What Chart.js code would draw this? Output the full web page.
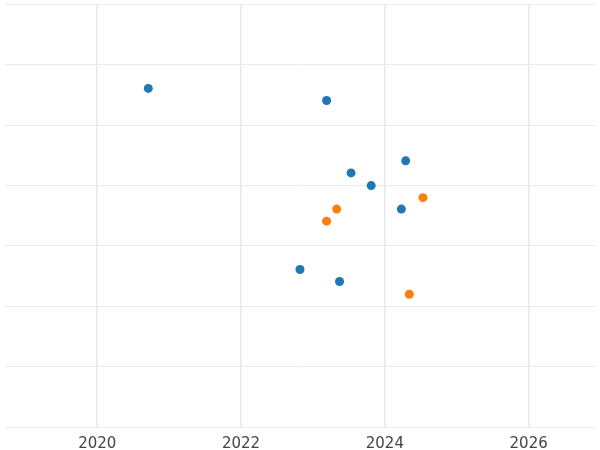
<!DOCTYPE html>
<html>
<head>
<meta charset="utf-8">
<script src="https://cdn.jsdelivr.net/npm/chart.js@4"></script>
<style>
  html, body { margin: 0; padding: 0; background: #fff; }
  #wrap { width: 600px; height: 450px; }
</style>
</head>
<body>
<div id="wrap"><canvas id="chart"></canvas></div>
<script>
// серия 1 (синяя)
const blueX = [2020.71, 2023.19, 2024.29, 2023.53, 2023.81, 2024.23, 2022.82, 2023.37];
const blueY = [5.61, 5.41, 4.41, 4.21, 4.0, 3.61, 2.61, 2.41];
// серия 2 (оранжевая)
const orangeX = [2024.53, 2023.33, 2023.19, 2024.34];
const orangeY = [3.80, 3.61, 3.41, 2.20];
const xTicks = [2020, 2022, 2024, 2026];

function toPoints(xs, ys) {
    return xs.map((x, i) => ({ x: x, y: ys[i] }));
}

new Chart(document.getElementById('chart'), {
    type: 'scatter',
    data: {
        datasets: [
            { data: toPoints(blueX, blueY), backgroundColor: '#1f77b4', borderWidth: 0, pointRadius: 4.5 },
            { data: toPoints(orangeX, orangeY), backgroundColor: '#ff7f0e', borderWidth: 0, pointRadius: 4.5 }
        ]
    },
    options: {
        responsive: true,
        maintainAspectRatio: false,
        animation: false,
        layout: { padding: 0 },
        plugins: { legend: { display: false }, tooltip: { enabled: false } },
        scales: {
            x: {
                min: 2018.71,
                max: 2026.93,
                afterBuildTicks: axis => { axis.ticks = xTicks.map(v => ({ value: v })); },
                afterFit: axis => { axis.height = 23; axis.paddingLeft = 0; axis.paddingRight = 0; },
                grid: { color: '#e8e8e8', lineWidth: 1.5, drawTicks: false },
                border: { display: false },
                ticks: {
                    color: '#444',
                    font: { family: 'DejaVu Sans', size: 15 },
                    padding: 8,
                    callback: v => String(v)
                }
            },
            y: {
                min: 0,
                max: 7,
                afterFit: axis => { axis.width = 0; axis.paddingTop = 0; axis.paddingBottom = 0; },
                ticks: { display: false, stepSize: 1 },
                grid: { color: '#ebebeb', lineWidth: 1, drawTicks: false },
                border: { display: false }
            }
        }
    }
});
</script>
</body>
</html>
